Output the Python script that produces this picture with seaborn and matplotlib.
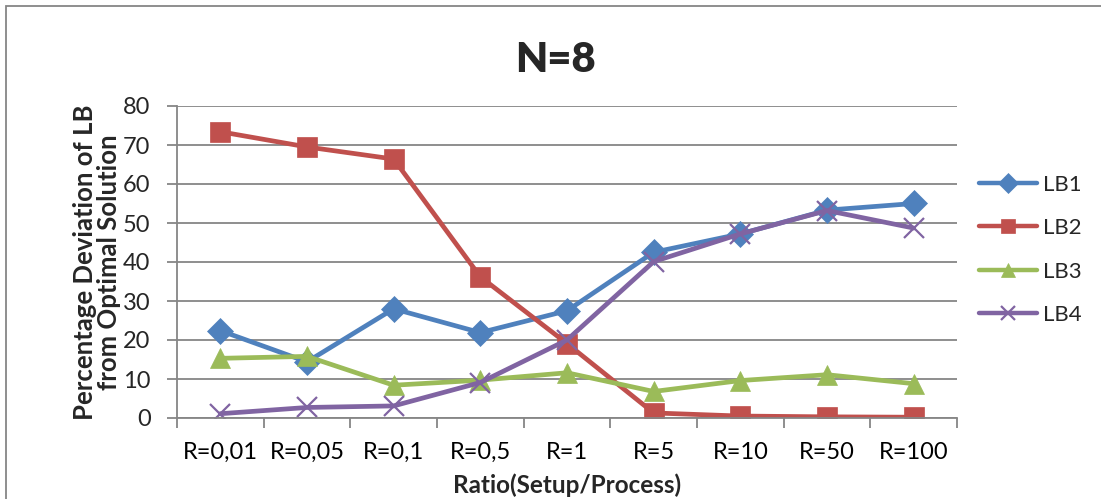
import matplotlib
matplotlib.use("Agg")
import matplotlib.pyplot as plt
import seaborn as sns
import pandas as pd
import numpy as np
from matplotlib.lines import Line2D
from matplotlib.patches import Rectangle
from matplotlib.ticker import FixedLocator, NullFormatter

categories = ["R=0,01", "R=0,05", "R=0,1", "R=0,5", "R=1", "R=5", "R=10", "R=50", "R=100"]
lb1 = [22.4, 14.4, 28.0, 21.9, 27.5, 42.5, 47.2, 53.3, 55.0]
lb2 = [73.4, 69.5, 66.4, 36.2, 19.1, 1.3, 0.5, 0.3, 0.2]
lb3 = [15.3, 15.8, 8.4, 9.7, 11.6, 6.8, 9.6, 11.1, 8.8]
lb4 = [1.1, 2.7, 3.1, 9.1, 20.0, 40.1, 47.2, 53.2, 48.7]
series_names = ["LB1", "LB2", "LB3", "LB4"]
yticks = [0, 10, 20, 30, 40, 50, 60, 70, 80]

colors = {"LB1": "#4F81BD", "LB2": "#C0504D", "LB3": "#9BBB59", "LB4": "#8064A2"}
markers = {"LB1": "D", "LB2": "s", "LB3": "^", "LB4": "x"}

rows = []
for name, vals in zip(series_names, [lb1, lb2, lb3, lb4]):
    for i, (c, v) in enumerate(zip(categories, vals)):
        rows.append({"pos": i, "cat": c, "value": v, "series": name})
df = pd.DataFrame(rows)

sns.set_theme(style="white")
plt.rcParams["font.family"] = ["Lato", "DejaVu Sans"]

W, H = 1101, 499
fig = plt.figure(figsize=(W / 100, H / 100), dpi=100)
ax = fig.add_axes([177 / W, (H - 418) / H, (957 - 177) / W, (418 - 106) / H])

sizes = {"LB1": 13, "LB2": 15, "LB3": 14, "LB4": 15}
for name in series_names:
    sub = df[df["series"] == name]
    sns.lineplot(data=sub, x="pos", y="value", ax=ax, color=colors[name],
                 marker=markers[name], markersize=sizes[name], linewidth=3.4,
                 markeredgecolor=colors[name], markeredgewidth=1.6 if name == "LB4" else 0.5,
                 legend=False, sort=False)

ax.set_xlim(-0.5, len(categories) - 0.5)
ax.set_ylim(0, 80)
ax.set_yticks(yticks)
ax.set_yticklabels([str(t) for t in yticks], fontsize=17)
ax.set_xticks(range(len(categories)))
ax.set_xticklabels(categories, fontsize=17)
ax.xaxis.set_minor_locator(FixedLocator(np.arange(-0.5, len(categories), 1.0)))
ax.xaxis.set_minor_formatter(NullFormatter())
ax.tick_params(axis="x", which="major", length=0, pad=17, colors="black")
ax.tick_params(axis="x", which="minor", length=7, width=1.3, color="#868686", direction="out", bottom=True)
ax.tick_params(axis="y", which="major", length=7, width=1.3, color="#868686", direction="out", left=True, pad=12)

ax.grid(axis="y", color="#868686", linewidth=1.3)
ax.set_axisbelow(True)
for s in ["top", "right"]:
    ax.spines[s].set_visible(False)
for s in ["left", "bottom"]:
    ax.spines[s].set_color("#868686")
    ax.spines[s].set_linewidth(1.3)

ax.set_xlabel("Ratio(Setup/Process)", fontsize=17.5, fontweight="bold", labelpad=8)
ax.set_ylabel("Percentage Deviation of LB\nfrom Optimal Solution", fontsize=18.5, fontweight="bold", labelpad=1.5,
              linespacing=1.0)
fig.text(555 / W, 1 - 60 / H, "N=8", ha="center", va="center", fontsize=30, fontweight="heavy")

handles = [Line2D([], [], color=colors[n], marker=markers[n], markersize=10, linewidth=3.2,
                  markeredgewidth=1.6 if n == "LB4" else 0.5, markeredgecolor=colors[n]) for n in series_names]
leg = fig.legend(handles, series_names, loc="upper left", bbox_to_anchor=(970 / W, 1 - 166 / H),
                 frameon=False, fontsize=16, handlelength=2.6, labelspacing=1.05, handletextpad=0.3,
                 borderaxespad=0)

fig.patches.append(Rectangle((6 / W, -0.1), 1.2, 1 - 6 / H + 0.1, transform=fig.transFigure,
                             fill=False, edgecolor="#868686", linewidth=1.3))

fig.savefig("out.png", dpi=100)
